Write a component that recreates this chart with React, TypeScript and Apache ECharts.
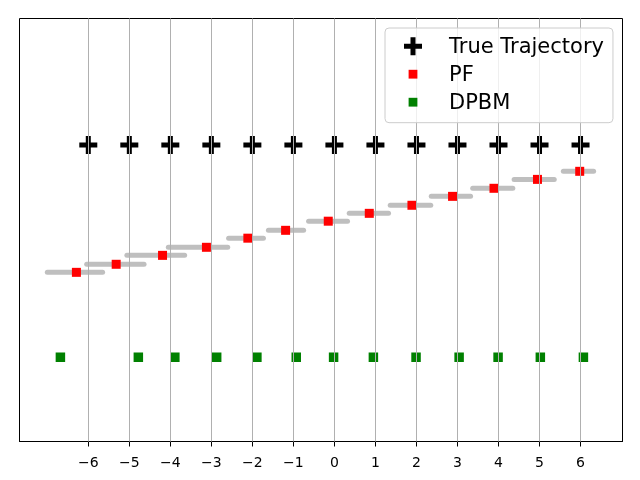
import React, { useEffect, useRef } from "react";
import * as echarts from "echarts";

// x-axis tick values
const tickValues = [-6, -5, -4, -3, -2, -1, 0, 1, 2, 3, 4, 5, 6];

// True trajectory
const trueX = [-6, -5, -4, -3, -2, -1, 0, 1, 2, 3, 4, 5, 6];
const trueY = [1, 1, 1, 1, 1, 1, 1, 1, 1, 1, 1, 1, 1];

// PF estimates
const pfX = [-6.29, -5.32, -4.19, -3.12, -2.11, -1.19, -0.15, 0.85, 1.89, 2.88, 3.89, 4.95, 5.98];
const pfY = [0.4, 0.438, 0.48, 0.518, 0.561, 0.598, 0.641, 0.678, 0.716, 0.758, 0.796, 0.838, 0.876];

// PF particle spread (min / max x of each particle cloud)
const particleMin = [-7.06, -6.1, -5.12, -4.11, -2.64, -1.67, -0.69, 0.3, 1.3, 2.3, 3.31, 4.32, 5.52];
const particleMax = [-5.59, -4.58, -3.59, -2.54, -1.67, -0.69, 0.38, 1.38, 2.41, 3.38, 4.41, 5.42, 6.38];

// DPBM estimates
const dpbmX = [-6.68, -4.78, -3.89, -2.87, -1.89, -0.93, -0.02, 0.95, 1.99, 3.04, 3.99, 5.02, 6.07];
const dpbmY = [0, 0, 0, 0, 0, 0, 0, 0, 0, 0, 0, 0, 0];

const FONT = "DejaVu Sans";
const PLUS = "path://M6.5,0h5v18h-5z M0,6.5h18v5h-18z";
const PLUS_ICON = "path://M0,0M20,20M7.5,1h5v18h-5z M1,7.5h18v5h-18z";
const SQ_ICON = "path://M0,0M20,20M5.6,5.6h8.8v8.8h-8.8z";

export default function App() {
  const ref = useRef<HTMLDivElement>(null);
  useEffect(() => {
    if (!ref.current) return;
    const chart = echarts.init(ref.current, null, { renderer: "svg" });
    const fmt = (v: number) => (v < 0 ? "\u2212" + Math.abs(v) : String(v));
    chart.setOption({
      animation: false,
      grid: {
        left: 19.5,
        right: 17.5,
        top: 18.5,
        bottom: 38.5,
        show: true,
        borderColor: "#000",
        borderWidth: 1,
        backgroundColor: "transparent",
      },
      xAxis: {
        type: "value",
        min: -7.677,
        max: 7.023,
        axisLine: { show: true, onZero: false, lineStyle: { color: "#000", width: 1 } },
        axisTick: {
          show: true,
          customValues: tickValues,
          length: 5,
          lineStyle: { color: "#000", width: 1 },
        },
        axisLabel: {
          customValues: tickValues,
          formatter: fmt,
          fontFamily: FONT,
          fontSize: 14,
          color: "#000",
          margin: 13,
        },
        splitLine: { show: false },
      },
      yAxis: {
        type: "value",
        min: -0.397,
        max: 1.596,
        show: false,
      },
      legend: {
        orient: "vertical",
        left: 385,
        top: 28,
        z: 10,
        padding: [7.7, 9, 10, 18],
        itemWidth: 20,
        itemHeight: 20,
        itemGap: 7,
        backgroundColor: "rgba(255,255,255,0.8)",
        borderColor: "#cccccc",
        borderWidth: 1,
        borderRadius: 4,
        textStyle: {
          fontFamily: FONT,
          fontSize: 21,
          lineHeight: 20,
          color: "#000",
          padding: [0, 0, 0, 21],
        },
        data: [
          { name: "True Trajectory", icon: PLUS_ICON },
          { name: "PF", icon: SQ_ICON },
          { name: "DPBM", icon: SQ_ICON },
        ],
      },
      series: [
        {
          type: "custom",
          name: "particles",
          data: particleMin.map((v, i) => [v, particleMax[i], pfY[i]]),
          encode: { x: [0, 1], y: 2 },
          renderItem: (params: any, api: any) => {
            const a = api.coord([api.value(0), api.value(2)]);
            const b = api.coord([api.value(1), api.value(2)]);
            return {
              type: "line",
              shape: { x1: a[0] + 2.5, y1: a[1], x2: b[0] - 2.5, y2: b[1] },
              style: { stroke: "#bfbfbf", lineWidth: 5, lineCap: "round" },
            };
          },
          silent: true,
        },
        {
          type: "scatter",
          name: "PF",
          symbol: "rect",
          symbolSize: 9,
          itemStyle: { color: "#ff0000", opacity: 1 },
          data: pfX.map((x, i) => [x, pfY[i]]),
        },
        {
          type: "scatter",
          name: "DPBM",
          symbol: "rect",
          symbolSize: 9.5,
          itemStyle: { color: "#008000", opacity: 1 },
          data: dpbmX.map((x, i) => [x, dpbmY[i]]),
        },
        {
          type: "scatter",
          name: "True Trajectory",
          symbol: PLUS,
          symbolSize: 18,
          itemStyle: { color: "#000", opacity: 1 },
          data: trueX.map((x, i) => [x, trueY[i]]),
          markLine: {
            silent: true,
            symbol: "none",
            label: { show: false },
            lineStyle: { color: "#b0b0b0", width: 1, type: "solid" },
            emphasis: { disabled: true },
            data: tickValues.map((v) => ({ xAxis: v })),
          },
        },
      ],
    });
    return () => chart.dispose();
  }, []);
  return (
    <div
      ref={ref}
      style={{ position: "fixed", left: 0, top: 0, width: 640, height: 480 }}
    />
  );
}
